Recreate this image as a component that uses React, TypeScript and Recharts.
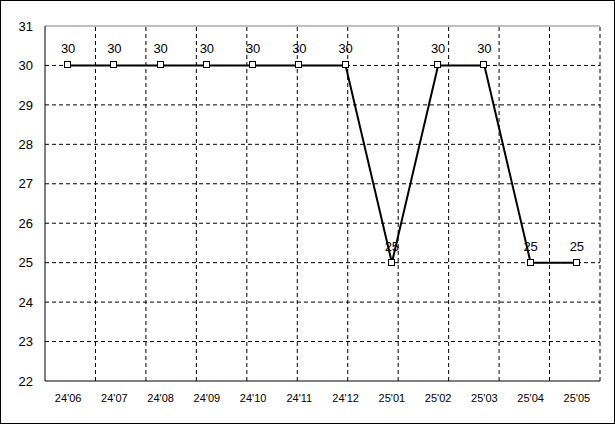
import React from 'react';
import { LineChart, Line, XAxis, YAxis, ReferenceLine, LabelList } from 'recharts';

const months = ["24'06", "24'07", "24'08", "24'09", "24'10", "24'11", "24'12", "25'01", "25'02", "25'03", "25'04", "25'05"];
const values = [30, 30, 30, 30, 30, 30, 30, 25, 30, 30, 25, 25];
const yTicks = [22, 23, 24, 25, 26, 27, 28, 29, 30, 31];
const gridYTicks = [23, 24, 25, 26, 27, 28, 29, 30];

const data = months.map((m, i) => ({ month: m, value: values[i] }));
// band boundaries between months, on a hidden 0..12 index axis
const gridXTicks = months.map((_, i) => i).slice(1);

const bigFont = { fontFamily: 'Liberation Sans, Arial, sans-serif', fontSize: 13, fill: '#000' };
const smallFont = { fontFamily: 'Liberation Sans, Arial, sans-serif', fontSize: 11, fill: '#000' };

const SquareDot = (props: any) => {
  const { cx, cy } = props;
  if (cx == null || cy == null) return null;
  return <rect x={Math.round(cx) - 3.5} y={Math.round(cy) - 3.5} width={6} height={6} fill="#fff" stroke="#000" strokeWidth={1} />;
};

const App: React.FC = () => {
  return (
    <div
      style={{
        position: 'fixed',
        left: 0,
        top: 0,
        width: 615,
        height: 424,
        border: '1px solid #000',
        boxSizing: 'border-box',
        background: '#fff',
      }}
    >
      <LineChart width={613} height={422} data={data} margin={{ top: 25, right: 14, left: 0, bottom: 12 }}>
        <XAxis
          dataKey="month"
          scale="band"
          axisLine={{ stroke: '#000' }}
          tickLine={false}
          tickSize={0}
          tickMargin={13}
          height={30}
          tick={smallFont}
          interval={0}
        />
        <XAxis xAxisId="grid" type="number" domain={[0, 12]} hide />
        <YAxis
          domain={[22, 31]}
          ticks={yTicks}
          axisLine={{ stroke: '#000' }}
          tickLine={false}
          tickSize={0}
          tickMargin={12}
          width={44}
          tick={bigFont}
          interval={0}
        />
        {gridYTicks.map((v) => (
          <ReferenceLine key={'h' + v} y={v} stroke="#000" strokeDasharray="4 3" />
        ))}
        {gridXTicks.map((v) => (
          <ReferenceLine key={'v' + v} xAxisId="grid" x={v} stroke="#000" strokeDasharray="4 3" />
        ))}
        <ReferenceLine y={31} stroke="#808080" />
        <ReferenceLine xAxisId="grid" x={12} stroke="#808080" />
        <Line
          dataKey="value"
          stroke="#000"
          strokeWidth={2}
          dot={<SquareDot />}
          activeDot={false}
          isAnimationActive={false}
        >
          <LabelList dataKey="value" position="top" offset={12} style={bigFont} />
        </Line>
      </LineChart>
    </div>
  );
};

export default App;
